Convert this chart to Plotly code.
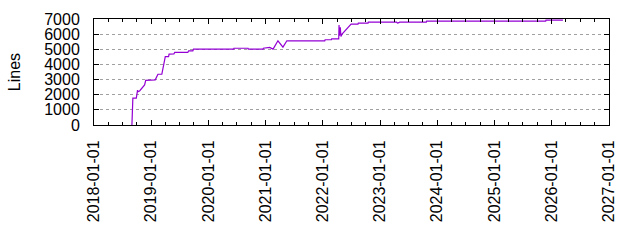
import plotly.graph_objects as go

dates = [
    "2018-08-31", "2018-09-01", "2018-09-04", "2018-09-06", "2018-09-28", "2018-10-02",
    "2018-10-04", "2018-10-06", "2018-10-09", "2018-10-19", "2018-11-20", "2018-11-27",
    "2019-01-27", "2019-02-07", "2019-02-13", "2019-03-10", "2019-03-14", "2019-03-28",
    "2019-04-01", "2019-04-22", "2019-04-25", "2019-05-26", "2019-05-31", "2019-08-23",
    "2019-08-28", "2019-09-24", "2019-09-28", "2020-06-10", "2020-06-12", "2020-09-10",
    "2020-09-12", "2020-12-15", "2020-12-17", "2021-01-26", "2021-02-17", "2021-03-20",
    "2021-04-21", "2021-05-16", "2022-01-13", "2022-01-15", "2022-02-24", "2022-02-26",
    "2022-04-12", "2022-04-14", "2022-04-16", "2022-04-22", "2022-04-26", "2022-05-03",
    "2022-06-10", "2022-06-21", "2022-06-30", "2022-08-13", "2022-08-15", "2022-10-16",
    "2022-10-18", "2023-04-16", "2023-04-22", "2023-05-01", "2023-05-06", "2023-10-23",
    "2023-10-25", "2025-11-23", "2025-11-25", "2026-03-13",
]
lines = [
    0, 400, 1750, 1770, 1770, 2250, 2000, 2300, 2200, 2250, 2650, 2950,
    2980, 3250, 3350, 3360, 3550, 4420,
    4520, 4520, 4680, 4690, 4790, 4790,
    4900, 4900, 5010, 5010, 5070, 5070,
    5010, 5010, 5070, 5120, 5010, 5560,
    5140, 5560, 5560, 5630, 5630, 5690,
    5690, 6600, 5900, 6450, 5850, 6000,
    6460, 6620, 6660, 6660, 6730, 6730,
    6800, 6800, 6730, 6760, 6800, 6800,
    6860, 6860, 6930, 6930,
]
year_ticks = [f"{y}-01-01" for y in range(2018, 2028)]

font = "Liberation Sans, Arial, sans-serif"
fig = go.Figure(go.Scatter(
    x=dates, y=lines, mode="lines",
    line=dict(color="#9400d3", width=1.2), showlegend=False,
))
fig.update_layout(
    width=640, height=240,
    margin=dict(l=94, r=31, t=19, b=115),
    paper_bgcolor="white", plot_bgcolor="white",
    font=dict(family=font, size=16, color="black"),
)
fig.update_xaxes(
    type="date", range=["2018-01-01", "2027-01-01"],
    tickmode="array", tickvals=year_ticks, ticktext=year_ticks,
    tickangle=-90, ticks="inside", ticklen=5, tickcolor="black",
    showline=True, linecolor="black", linewidth=1, mirror="ticks",
    showgrid=False, zeroline=False, ticklabelstandoff=8,
    minor=dict(dtick="M3", ticks="inside", ticklen=3, tickcolor="black", showgrid=False),
    tickfont=dict(size=16),
)
fig.update_yaxes(
    range=[0, 7000], tickvals=[0, 1000, 2000, 3000, 4000, 5000, 6000, 7000],
    ticks="inside", ticklen=5, tickcolor="black",
    showline=True, linecolor="black", linewidth=1, mirror="ticks",
    showgrid=True, gridcolor="#a0a0a0", griddash="3px,3px", gridwidth=1,
    zeroline=False, ticklabelstandoff=10,
    title=dict(text="Lines", standoff=19, font=dict(size=16)),
    tickfont=dict(size=16),
)
fig.write_html("out.html")
